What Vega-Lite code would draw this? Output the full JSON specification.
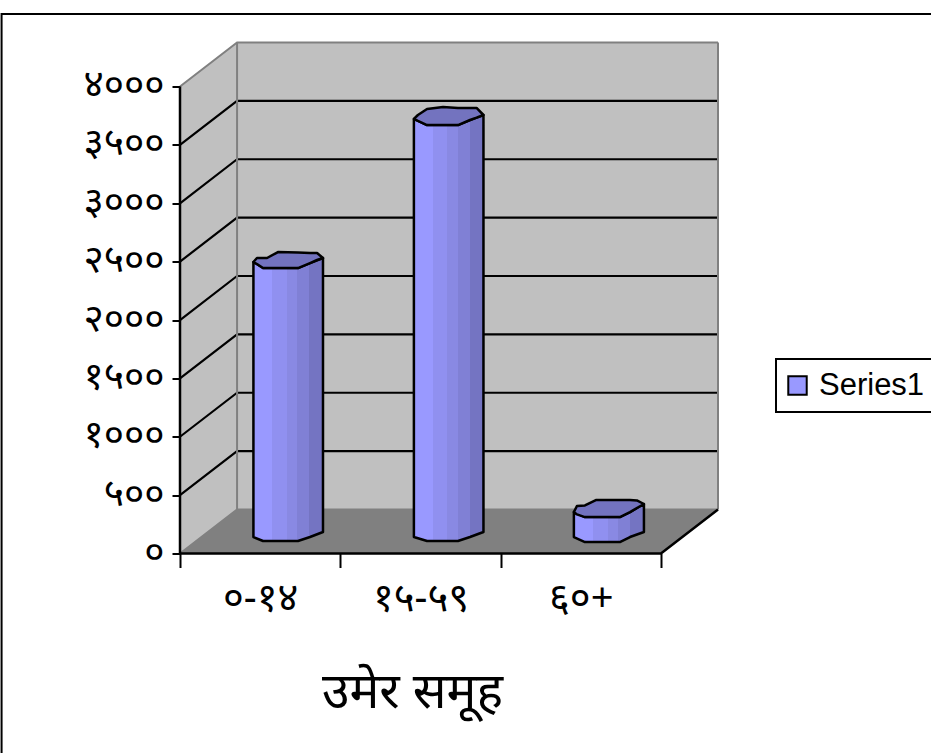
{
"$schema":"https://vega.github.io/schema/vega-lite/v6.json",
"autosize":"none",
"width":538,"height":511,
"padding":{"left":180,"top":42.5,"right":213,"bottom":199.5},
"background":"white",
"config":{"view":{"stroke":null},"font":"Noto Sans",
 "legend":{"orient":"none","legendX":596,"legendY":316.5,"padding":11,"fillColor":"white","strokeColor":"black","strokeWidth":2,"labelFont":"Liberation Sans","labelFontSize":31,"labelColor":"black","symbolType":"square","symbolSize":340,"symbolStrokeColor":"black","symbolStrokeWidth":2,"symbolOffset":-5,"labelOffset":6,"title":null}},
"datasets":{
 "frame":[{"x":-1.113,"x2":5.2,"low":-2500,"high":4621}],
 "side":[{"x":0,"low":0,"high":4000},{"x":0.356,"low":377,"high":4377}],
 "back":[{"x":0.356,"low":377,"high":4377},{"x":3.356,"low":377,"high":4377}],
 "floor":[{"x":0,"low":0,"high":0},{"x":0.356,"low":0,"high":377},{"x":3,"low":0,"high":377},{"x":3.356,"low":377,"high":377}],
 "grid":[
  {"g":500,"x":0,"low":500},{"g":500,"x":0.356,"low":877},{"g":500,"x":3.356,"low":877},
  {"g":1000,"x":0,"low":1000},{"g":1000,"x":0.356,"low":1377},{"g":1000,"x":3.356,"low":1377},
  {"g":1500,"x":0,"low":1500},{"g":1500,"x":0.356,"low":1877},{"g":1500,"x":3.356,"low":1877},
  {"g":2000,"x":0,"low":2000},{"g":2000,"x":0.356,"low":2377},{"g":2000,"x":3.356,"low":2377},
  {"g":2500,"x":0,"low":2500},{"g":2500,"x":0.356,"low":2877},{"g":2500,"x":3.356,"low":2877},
  {"g":3000,"x":0,"low":3000},{"g":3000,"x":0.356,"low":3377},{"g":3000,"x":3.356,"low":3377},
  {"g":3500,"x":0,"low":3500},{"g":3500,"x":0.356,"low":3877},{"g":3500,"x":3.356,"low":3877}],
 "edges":[
  {"g":"top","x":0,"low":4000},{"g":"top","x":0.356,"low":4377},{"g":"top","x":3.356,"low":4377},
  {"g":"corner","x":0.356,"low":377},{"g":"corner","x":0.3561,"low":4377},
  {"g":"right","x":3.356,"low":377},{"g":"right","x":3.3561,"low":4377},
  {"g":"base","x":0,"low":0},{"g":"base","x":0.356,"low":377},{"g":"base","x":3.356,"low":377}],
 "axes":[
  {"g":"y","x":0,"low":0},{"g":"y","x":0.0001,"low":4000},
  {"g":"x","x":0,"low":0},{"g":"x","x":3,"low":0},{"g":"x","x":3.356,"low":377}],
 "bars":[
  {"age":"०-१४","series":"Series1","start":0.55,"end":0.78,"base":200,"value":2445},
  {"age":"१५-५९","series":"Series1","start":1.55,"end":1.78,"base":200,"value":3670},
  {"age":"६०+","series":"Series1","start":2.55,"end":2.78,"base":200,"value":312}],
 "bodies":[
  {"age":"a","x":0.458,"low":141,"high":2497},{"age":"a","x":0.518,"low":107,"high":2445},{"age":"a","x":0.736,"low":107,"high":2445},{"age":"a","x":0.811,"low":141,"high":2488},{"age":"a","x":0.892,"low":184,"high":2531},
  {"age":"b","x":1.459,"low":141,"high":3722},{"age":"b","x":1.541,"low":107,"high":3670},{"age":"b","x":1.734,"low":107,"high":3670},{"age":"b","x":1.809,"low":141,"high":3713},{"age":"b","x":1.893,"low":184,"high":3756},
  {"age":"c","x":2.457,"low":141,"high":355},{"age":"c","x":2.526,"low":98,"high":312},{"age":"c","x":2.744,"low":98,"high":312},{"age":"c","x":2.807,"low":141,"high":355},{"age":"c","x":2.894,"low":184,"high":424}],
 "caps":[
  {"age":"a","x":0.458,"low":2497,"high":2497},{"age":"a","x":0.48,"low":2480,"high":2531},{"age":"a","x":0.518,"low":2445,"high":2531},{"age":"a","x":0.543,"low":2445,"high":2531},{"age":"a","x":0.611,"low":2445,"high":2582},{"age":"a","x":0.736,"low":2445,"high":2578},{"age":"a","x":0.811,"low":2488,"high":2574},{"age":"a","x":0.855,"low":2514,"high":2574},{"age":"a","x":0.892,"low":2531,"high":2531},
  {"age":"b","x":1.459,"low":3722,"high":3722},{"age":"b","x":1.484,"low":3705,"high":3756},{"age":"b","x":1.541,"low":3670,"high":3807},{"age":"b","x":1.641,"low":3670,"high":3824},{"age":"b","x":1.734,"low":3670,"high":3816},{"age":"b","x":1.809,"low":3713,"high":3816},{"age":"b","x":1.85,"low":3733,"high":3816},{"age":"b","x":1.893,"low":3756,"high":3756},
  {"age":"c","x":2.457,"low":355,"high":355},{"age":"c","x":2.476,"low":335,"high":407},{"age":"c","x":2.526,"low":312,"high":412},{"age":"c","x":2.594,"low":312,"high":458},{"age":"c","x":2.744,"low":312,"high":458},{"age":"c","x":2.807,"low":355,"high":458},{"age":"c","x":2.85,"low":390,"high":455},{"age":"c","x":2.894,"low":424,"high":424}]
},
"resolve":{"axis":{"x":"independent","y":"independent"}},
"encoding":{
 "x":{"field":"x","type":"quantitative","scale":{"domain":[0,3.356],"nice":false,"zero":false},"axis":null},
 "y":{"field":"low","type":"quantitative","scale":{"domain":[0,4377],"nice":false,"zero":false},"axis":null}
},
"layer":[
 {"data":{"name":"frame"},"mark":{"type":"rect","fill":null,"stroke":"black","strokeWidth":2,"clip":false},
  "encoding":{"x2":{"field":"x2"},"y2":{"field":"high"},
  "x":{"field":"x","type":"quantitative","axis":{"title":null,"orient":"bottom","values":[0,1,2,3],"labels":false,"domain":false,"grid":false,"ticks":true,"tickSize":14,"tickWidth":2,"tickColor":"black"}},
  "y":{"field":"low","type":"quantitative","axis":{"title":null,"orient":"left","values":[0,500,1000,1500,2000,2500,3000,3500,4000],"format":"d","labelExpr":"{'0':'०','500':'५००','1000':'१०००','1500':'१५००','2000':'२०००','2500':'२५००','3000':'३०००','3500':'३५००','4000':'४०००'}[datum.label]","domain":false,"grid":false,"tickSize":8,"tickWidth":2,"tickColor":"black","labelFontSize":39,"labelColor":"black","labelPadding":8,"labelOffset":-2}}}},
 {"data":{"name":"side"},"mark":{"type":"area","fill":"#C0C0C0"},"encoding":{"y2":{"field":"high"}}},
 {"data":{"name":"back"},"mark":{"type":"area","fill":"#C0C0C0"},"encoding":{"y2":{"field":"high"}}},
 {"data":{"name":"floor"},"mark":{"type":"area","fill":"#808080"},"encoding":{"y2":{"field":"high"}}},
 {"data":{"name":"grid"},"mark":{"type":"line","stroke":"black","strokeWidth":2.2},"encoding":{"detail":{"field":"g"}}},
 {"data":{"name":"edges"},"mark":{"type":"line","stroke":"#808080","strokeWidth":2},"encoding":{"detail":{"field":"g"}}},
 {"data":{"name":"axes"},"mark":{"type":"line","stroke":"black","strokeWidth":2.5},"encoding":{"detail":{"field":"g"}}},
 {"data":{"name":"bars"},"mark":{"type":"rect"},
  "encoding":{"x":{"field":"start","type":"quantitative"},"x2":{"field":"end"},"y":{"field":"base","type":"quantitative"},"y2":{"field":"value"},
  "color":{"field":"series","type":"nominal","scale":{"range":["#9999FF"]},"legend":{"title":null}}}},
 {"data":{"name":"bodies"},"mark":{"type":"area","stroke":"black","strokeWidth":2.5,"strokeJoin":"round","fill":{"x1":0,"y1":0,"x2":1,"y2":0,"gradient":"linear","stops":[{"offset":0,"color":"#9999FF"},{"offset":0.27,"color":"#9999FF"},{"offset":0.27,"color":"#9090F0"},{"offset":0.48,"color":"#9090F0"},{"offset":0.48,"color":"#8989E3"},{"offset":0.63,"color":"#8989E3"},{"offset":0.63,"color":"#8080D5"},{"offset":0.8,"color":"#8080D5"},{"offset":0.8,"color":"#7474C2"},{"offset":1,"color":"#7474C2"}]}},
  "encoding":{"y2":{"field":"high"},"detail":{"field":"age"}}},
 {"data":{"name":"caps"},"mark":{"type":"area","fill":"#7373BF","stroke":"black","strokeWidth":2.5,"strokeJoin":"round"},"encoding":{"y2":{"field":"high"},"detail":{"field":"age"}}},
 {"data":{"name":"bars"},"mark":{"type":"rect","opacity":0},
  "encoding":{"x":{"field":"start","type":"quantitative","axis":{"title":"उमेर समूह","orient":"bottom","values":[0.5,1.5,2.5],"labelExpr":"{'0.5':'०-१४','1.5':'१५-५९','2.5':'६०+'}[datum.value]","domain":false,"ticks":false,"grid":false,"labelFontSize":40,"labelColor":"black","labelPadding":25,"titleFontSize":50,"titleFontWeight":"normal","titleColor":"black","titleX":232,"titleY":114}},"x2":{"field":"end"},"y":{"field":"base","type":"quantitative"},"y2":{"field":"value"}}}
]
}
